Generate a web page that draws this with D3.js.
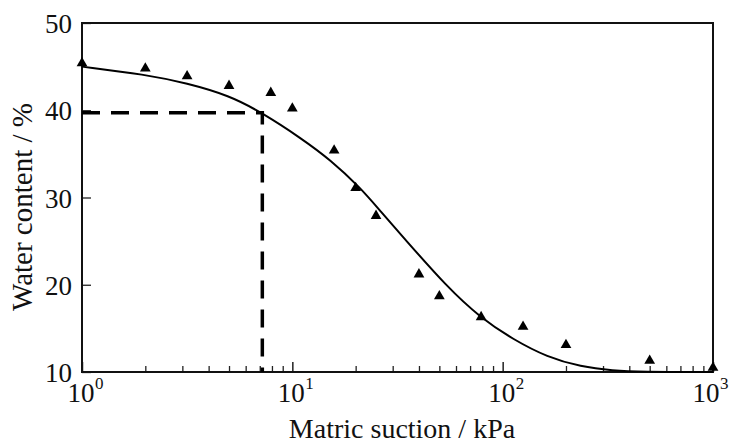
<!DOCTYPE html>
<html>
<head>
<meta charset="utf-8">
<script src="https://cdn.jsdelivr.net/npm/d3@7"></script>
<style>
  body { margin: 0; background: #fff; }
  text { font-family: "Liberation Serif", "Times New Roman", serif; fill: #111; }
</style>
</head>
<body>
<svg id="chart" width="730" height="445"></svg>
<script>
// measured points (matric suction kPa, water content %)
let suction = [1, 2, 3.16, 5, 7.9, 10, 15.8, 20, 25, 40, 50, 79, 125, 200, 500, 1000]
let water   = [45.4, 44.8, 43.9, 42.8, 42.0, 40.2, 35.4, 31.1, 27.9, 21.2, 18.7, 16.3, 15.2, 13.1, 11.3, 10.5]

// fitted curve
let curveX = [1, 2, 3.16, 5, 7.2, 11, 15.2, 21.1, 26.3, 33.8, 54.6, 78.6, 112.7, 163, 235, 336, 450, 1000]
let curveY = [45.0, 44.1, 43.1, 41.7, 39.7, 36.8, 34.3, 31.1, 28.4, 25.4, 19.7, 16.2, 13.7, 11.7, 10.6, 10.15, 10.0, 10.0]

// reference point marked with dashes
let refX = 7.2
let refY = 39.7

let yTicks = [10, 20, 30, 40, 50]
let xTicks = [1, 10, 100, 1000]
let xExp = ['0', '1', '2', '3']

var margin = {top: 23, right: 17, bottom: 73, left: 82},
  width = 730 - margin.left - margin.right,
  height = 445 - margin.top - margin.bottom;

var svg = d3.select("#chart")
  .append("g").attr("transform", "translate(" + margin.left + "," + margin.top + ")");

var x = d3.scaleLog().domain([1, 1000]).range([0, width]);
var y = d3.scaleLinear().domain([10, 50]).range([height, 0]);

// minor ticks on the x axis
var minor = [];
[1, 10, 100].forEach(function(d) {
  for (let k = 2; k <= 9; k++) minor.push(d * k);
});

svg.append("g")
  .attr("transform", "translate(0," + height + ")")
  .call(d3.axisBottom(x).tickValues(minor).tickSizeInner(-6).tickSizeOuter(0).tickFormat(""))
  .call(g => g.select(".domain").remove())
  .call(g => g.selectAll("line").attr("stroke", "#222").attr("stroke-width", 1.3));

svg.append("g")
  .attr("transform", "translate(0," + height + ")")
  .call(d3.axisBottom(x).tickValues(xTicks).tickSizeInner(-10).tickSizeOuter(0).tickFormat(""))
  .call(g => g.select(".domain").remove())
  .call(g => g.selectAll("line").attr("stroke", "#222").attr("stroke-width", 1.5));

svg.append("g")
  .call(d3.axisLeft(y).tickValues(yTicks).tickSizeInner(-9).tickSizeOuter(0).tickFormat(""))
  .call(g => g.select(".domain").remove())
  .call(g => g.selectAll("line").attr("stroke", "#222").attr("stroke-width", 1.3));

// y tick labels
svg.selectAll(".ylab").data(yTicks).enter().append("text")
  .attr("x", -10)
  .attr("y", d => y(d) + 10)
  .attr("text-anchor", "end")
  .style("font-size", "27px")
  .text(d => d);

// x tick labels with superscript (last one nudged left to stay on the page)
xTicks.forEach(function(d, i) {
  let shift = i == xTicks.length - 1 ? -6 : 0;
  svg.append("text")
    .attr("x", x(d) - 1 + shift)
    .attr("y", height + 30)
    .attr("text-anchor", "middle")
    .style("font-size", "27px")
    .text("10");
  svg.append("text")
    .attr("x", x(d) + 13 + shift)
    .attr("y", height + 17)
    .style("font-size", "17px")
    .text(xExp[i]);
});

// frame
svg.append("rect")
  .attr("width", width).attr("height", height)
  .attr("fill", "none").attr("stroke", "#111").attr("stroke-width", 2);

// dashed guides
svg.append("path")
  .attr("d", "M0," + y(refY) + "H" + x(refX) + "V" + height)
  .attr("fill", "none")
  .attr("stroke", "#000")
  .attr("stroke-width", 3.5)
  .attr("stroke-dasharray", "18,11");

// fitted curve
var curveData = curveX.map((d, i) => ({s: d, w: curveY[i]}));
var line = d3.line()
  .x(d => x(d.s))
  .y(d => y(d.w))
  .curve(d3.curveBasis);

svg.append("path")
  .datum(curveData)
  .attr("d", line)
  .attr("fill", "none")
  .attr("stroke", "#000")
  .attr("stroke-width", 2);

// points
var pts = suction.map((d, i) => ({s: d, w: water[i]}));
svg.selectAll(".pt").data(pts).enter().append("path")
  .attr("d", d3.symbol().type(d3.symbolTriangle).size(50))
  .attr("transform", d => "translate(" + x(d.s) + "," + y(d.w) + ")")
  .attr("fill", "#000");

// axis titles
svg.append("text")
  .attr("x", 320)
  .attr("y", height + 66)
  .attr("text-anchor", "middle")
  .style("font-size", "28px")
  .text("Matric suction / kPa");

svg.append("text")
  .attr("transform", "translate(-50,184) rotate(-90)")
  .attr("text-anchor", "middle")
  .style("font-size", "29px")
  .text("Water content / %");
</script>
</body>
</html>
